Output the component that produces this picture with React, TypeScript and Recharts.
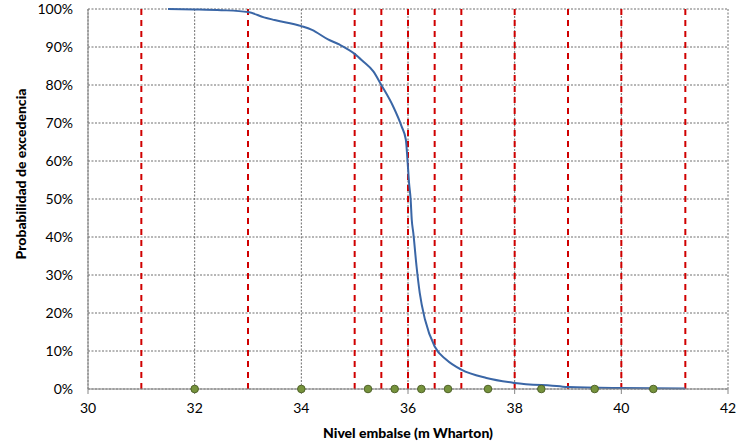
import React from "react"
import {
  ComposedChart,
  Line,
  Scatter,
  XAxis,
  YAxis,
  CartesianGrid,
  ReferenceLine,
  Label,
} from "recharts"

// exceedance curve
const curveLevels = [
  31.5, 32.0, 32.5, 33.0, 33.3, 33.5, 34.0, 34.2, 34.5, 34.72, 35.0, 35.16, 35.35,
  35.5, 35.72, 35.88, 35.96, 35.99, 36.02, 36.05, 36.07, 36.1, 36.16, 36.22, 36.32,
  36.5, 36.72, 37.0, 37.47, 38.0, 38.85, 39.0, 40.0, 41.2,
]
const curveProb = [
  1.0, 0.999, 0.997, 0.992, 0.978, 0.971, 0.955, 0.945, 0.92, 0.906, 0.882, 0.862, 0.836,
  0.8, 0.744, 0.691, 0.656, 0.603, 0.542, 0.498, 0.446, 0.41, 0.323, 0.253, 0.182,
  0.112, 0.077, 0.051, 0.029, 0.016, 0.007, 0.005, 0.0025, 0.0015,
]

// red dashed level markers
const markerLevels = [31, 33, 35, 35.5, 36, 36.5, 37, 38, 39, 40, 41.2]

// green points on the axis
const pointLevels = [32, 34, 35.25, 35.75, 36.25, 36.75, 37.5, 38.5, 39.5, 40.6]

const xTicks = [30, 32, 34, 36, 38, 40, 42]
const yTicks = [0, 0.1, 0.2, 0.3, 0.4, 0.5, 0.6, 0.7, 0.8, 0.9, 1]

const curve = curveLevels.map((x, i) => ({ x, p: curveProb[i] }))
const points = pointLevels.map((x) => ({ x, p: 0 }))

const font = "Lato, 'Liberation Sans', sans-serif"

const YTitle = (props: any) => {
  const { viewBox } = props
  const cx = viewBox.x + 20
  const cy = viewBox.y + viewBox.height / 2 - 25
  return (
    <text
      x={cx}
      y={cy}
      transform={`rotate(-90, ${cx}, ${cy})`}
      textAnchor="middle"
      dominantBaseline="central"
      fontFamily={font}
      fontWeight={900}
      fontSize={14}
      fill="#000"
    >
      Probabilidad de excedencia
    </text>
  )
}

const XTitle = (props: any) => {
  const { viewBox } = props
  return (
    <text
      x={viewBox.x + viewBox.width / 2}
      y={viewBox.y + 43}
      textAnchor="middle"
      dominantBaseline="central"
      fontFamily={font}
      fontWeight={900}
      fontSize={14}
      fill="#000"
    >
      Nivel embalse (m Wharton)
    </text>
  )
}

export default function App() {
  return (
    <div style={{ position: "absolute", left: 0, top: 0, background: "#fff" }}>
      <ComposedChart
        width={739}
        height={443}
        margin={{ top: 9, right: 11, bottom: 10, left: 0 }}
      >
        <CartesianGrid
          stroke="#6e6e6e"
          strokeOpacity={1}
          strokeWidth={1}
          strokeDasharray="2 1.5"
          horizontalValues={yTicks}
          verticalValues={xTicks}
        />
        <XAxis
          type="number"
          dataKey="x"
          domain={[30, 42]}
          ticks={xTicks}
          allowDataOverflow
          height={44}
          stroke="#868686"
          tickSize={5}
          tickMargin={9}
          tick={{ fill: "#000", fontSize: 14, fontFamily: font }}
        >
          <Label content={XTitle} />
        </XAxis>
        <YAxis
          type="number"
          dataKey="p"
          domain={[0, 1]}
          ticks={yTicks}
          width={88}
          stroke="#868686"
          tickLine={false}
          tickSize={6}
          tickMargin={9}
          tickFormatter={(v: number) => `${Math.round(v * 100)}%`}
          tick={{ fill: "#000", fontSize: 14, fontFamily: font }}
        >
          <Label content={YTitle} />
        </YAxis>
        {markerLevels.map((v) => (
          <ReferenceLine
            key={v}
            x={v}
            stroke="#D00000"
            strokeWidth={2}
            strokeDasharray="6 5"
          />
        ))}
        <Line
          data={curve}
          dataKey="p"
          type="monotone"
          stroke="#3A66A6"
          strokeWidth={2}
          dot={false}
          activeDot={false}
          isAnimationActive={false}
        />
        <Scatter
          data={points}
          fill="#76933C"
          shape={(p: any) => (
            <circle cx={p.cx} cy={p.cy} r={3.8} fill="#76933C" stroke="#4F6228" strokeWidth={1} />
          )}
          isAnimationActive={false}
        />
      </ComposedChart>
    </div>
  )
}
